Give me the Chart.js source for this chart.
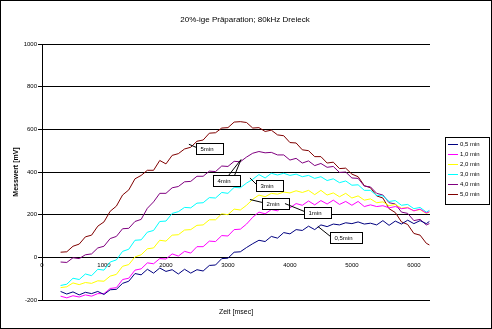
<!DOCTYPE html>
<html>
<head>
<meta charset="utf-8">
<script src="https://cdn.jsdelivr.net/npm/chart.js@4.4.0/dist/chart.umd.min.js"></script>
<style>
  html, body { margin: 0; padding: 0; background: #fff; }
</style>
</head>
<body>
<canvas id="chart" width="492" height="329"></canvas>
<script>
// time axis [msec]
const times = [
  300, 400, 500, 600, 700, 800, 900, 1000, 1100, 1200,
  1300, 1400, 1500, 1600, 1700, 1800, 1900, 2000, 2100, 2200,
  2300, 2400, 2500, 2600, 2700, 2800, 2900, 3000, 3100, 3200,
  3300, 3400, 3500, 3600, 3700, 3800, 3900, 4000, 4100, 4200,
  4300, 4400, 4500, 4600, 4700, 4800, 4900, 5000, 5100, 5200,
  5300, 5400, 5500, 5600, 5700, 5800, 5900, 6000, 6100, 6200,
  6250
];
const xTicks = [0, 1000, 2000, 3000, 4000, 5000, 6000];

// measured values [mV]
const min05 = [
  -160, -172, -162, -176, -164, -170, -160, -174, -152, -150,
  -122, -112, -76, -82, -56, -74, -50, -66, -58, -78,
  -56, -74, -58, -64, -38, -36, -6, -4, 24, 26,
  46, 64, 80, 74, 98, 90, 116, 110, 130, 126,
  146, 130, 152, 144, 156, 152, 162, 158, 166, 156,
  160, 152, 172, 150, 170, 156, 174, 158, 172, 158,
  168
];
const min10 = [
  -182, -190, -180, -186, -176, -182, -170, -170, -146, -142,
  -104, -98, -60, -54, -26, -30, -6, -8, 16, 6,
  28, 20, 50, 50, 76, 74, 102, 100, 130, 132,
  156, 188, 212, 204, 224, 218, 240, 232, 252, 244,
  264, 246, 266, 250, 268, 248, 262, 244, 262, 238,
  246, 238, 242, 232, 238, 228, 232, 218, 226, 208,
  214
];
const min20 = [
  -142, -138, -120, -128, -118, -122, -110, -112, -88, -80,
  -42, -34, 2, 12, 40, 44, 80, 76, 104, 106,
  128, 130, 150, 152, 176, 176, 204, 200, 226, 222,
  244, 272, 292, 284, 300, 296, 306, 302, 312, 304,
  314, 294, 314, 292, 302, 284, 300, 278, 288, 268,
  274, 256, 260, 242, 248, 230, 234, 218, 224, 206,
  212
];
const min30 = [
  -132, -126, -98, -104, -78, -86, -56, -60, -22, -12,
  28, 38, 80, 82, 118, 126, 168, 170, 206, 214,
  234, 232, 254, 256, 280, 278, 304, 300, 328, 326,
  348, 366, 388, 372, 394, 386, 394, 384, 390, 378,
  384, 370, 378, 360, 368, 350, 358, 338, 340, 314,
  314, 290, 288, 262, 266, 244, 248, 228, 234, 212,
  220
];
const min40 = [
  -22, -24, -2, -6, 12, 16, 44, 52, 88, 98,
  134, 136, 168, 178, 230, 260, 300, 300, 326, 332,
  354, 356, 380, 380, 404, 402, 428, 426, 450, 448,
  470, 488, 496, 490, 492, 480, 480, 456, 464, 442,
  452, 430, 440, 422, 426, 398, 400, 372, 370, 334,
  330, 300, 292, 256, 250, 212, 206, 172, 178, 152,
  158
];
const min50 = [
  24, 26, 52, 62, 96, 104, 146, 166, 216, 240,
  292, 316, 368, 384, 408, 408, 454, 438, 478, 486,
  508, 516, 544, 550, 582, 584, 606, 608, 634, 636,
  632, 606, 608, 590, 596, 574, 570, 538, 536, 504,
  500, 472, 472, 442, 446, 416, 418, 390, 378, 336,
  326, 288, 278, 228, 210, 166, 154, 112, 104, 66,
  58
];

const seriesNames = ['0,5 min', '1,0 min', '2,0 min', '3,0 min', '4,0 min', '5,0 min'];
const seriesColors = ['#000080', '#ff00ff', '#ffff00', '#00ffff', '#800080', '#800000'];
const allSeries = [min05, min10, min20, min30, min40, min50];

// callout labels: text, tip point and box corner in data units
const noteLabels = ['5min', '4min', '3min', '2min', '1min', '0,5min'];
const noteTipX = [2370, 3210, 3355, 3355, 3920, 4450];
const noteTipY = [530, 458, 372, 271, 252, 145];
const noteBoxX = [2480, 2760, 3450, 3550, 4230, 4650];
const noteBoxY = [537, 388, 364, 280, 238, 121];

const fontName = '"Liberation Sans", Arial, sans-serif';

const datasets = allSeries.map((vals, i) => ({
  label: seriesNames[i],
  data: vals.map((v, k) => ({ x: times[k], y: v })),
  borderColor: seriesColors[i],
  backgroundColor: seriesColors[i],
  borderWidth: 1,
  pointRadius: 0,
  showLine: true,
  tension: 0
}));

// frame, title, axis titles, legend box
const decorations = {
  id: 'decorations',
  beforeDraw(chart) {
    const ctx = chart.ctx;
    ctx.save();
    ctx.fillStyle = '#fff';
    ctx.fillRect(0, 0, chart.width, chart.height);
    ctx.restore();
  },
  afterDraw(chart) {
    const ctx = chart.ctx;
    const area = chart.chartArea;
    ctx.save();
    ctx.strokeStyle = '#000';
    ctx.lineWidth = 1;
    ctx.strokeRect(0.5, 0.5, chart.width - 1, chart.height - 1);

    ctx.fillStyle = '#000';
    ctx.textAlign = 'center';
    ctx.textBaseline = 'middle';
    ctx.font = '8px ' + fontName;
    ctx.fillText('20%-ige Präparation; 80kHz Dreieck', 245, 20);

    ctx.font = '7px ' + fontName;
    ctx.fillText('Zeit [msec]', (area.left + area.right) / 2, 312);

    ctx.save();
    ctx.translate(16, (area.top + area.bottom) / 2);
    ctx.rotate(-Math.PI / 2);
    ctx.font = 'bold 7px ' + fontName;
    ctx.fillText('Messwert [mV]', 0, 0);
    ctx.restore();

    // legend
    ctx.strokeRect(445.5, 137.5, 44, 67);
    ctx.font = '6px ' + fontName;
    ctx.textAlign = 'left';
    chart.data.datasets.forEach((ds, i) => {
      const y = 144.5 + i * 10;
      ctx.strokeStyle = ds.borderColor;
      ctx.beginPath();
      ctx.moveTo(448, y);
      ctx.lineTo(458, y);
      ctx.stroke();
      ctx.fillStyle = '#000';
      ctx.fillText(ds.label, 460, y);
    });
    ctx.restore();
  }
};

// callout boxes with leader lines
const callouts = {
  id: 'callouts',
  afterDatasetsDraw(chart) {
    const ctx = chart.ctx;
    const xs = chart.scales.x;
    const ys = chart.scales.y;
    ctx.save();
    ctx.font = '6px ' + fontName;
    ctx.textBaseline = 'middle';
    ctx.textAlign = 'left';
    ctx.lineWidth = 1;
    noteLabels.forEach((txt, i) => {
      const tx = xs.getPixelForValue(noteTipX[i]);
      const ty = ys.getPixelForValue(noteTipY[i]);
      const bx = Math.round(xs.getPixelForValue(noteBoxX[i])) + 0.5;
      const by = Math.round(ys.getPixelForValue(noteBoxY[i])) + 0.5;
      const w = Math.round(ctx.measureText(txt).width + 14);
      const h = 11;
      ctx.strokeStyle = '#000';
      ctx.beginPath();
      if (txt === '4min') {
        ctx.moveTo(bx + 15, by);
        ctx.lineTo(tx, ty);
        ctx.lineTo(bx + 21, by);
      } else {
        ctx.moveTo(tx, ty);
        ctx.lineTo(bx, by + 4);
      }
      ctx.stroke();
      ctx.fillStyle = '#fff';
      ctx.fillRect(bx, by, w, h);
      ctx.strokeRect(bx, by, w, h);
      ctx.fillStyle = '#000';
      ctx.fillText(txt, bx + 4, by + h / 2 + 0.5);
    });
    ctx.restore();
  }
};

new Chart(document.getElementById('chart'), {
  type: 'scatter',
  data: { datasets: datasets },
  options: {
    responsive: false,
    animation: false,
    layout: { padding: { left: 0, right: 62, top: 44, bottom: 29 } },
    plugins: {
      legend: { display: false },
      title: { display: false },
      tooltip: { enabled: false }
    },
    scales: {
      x: {
        type: 'linear',
        position: { y: 0 },
        min: 0,
        max: 6260,
        grid: { display: false, drawTicks: false },
        border: { display: false },
        afterBuildTicks(scale) {
          scale.ticks = xTicks.map(v => ({ value: v }));
        },
        ticks: {
          autoSkip: false,
          maxRotation: 0,
          padding: 4,
          color: '#000',
          font: { family: fontName, size: 6 },
          callback: v => String(v)
        }
      },
      y: {
        min: -200,
        max: 1000,
        grid: { color: '#000', lineWidth: 1, tickLength: 4 },
        border: { display: true, color: '#000', width: 1 },
        afterFit(scale) { scale.width = 42; },
        ticks: {
          stepSize: 200,
          padding: 1,
          color: '#000',
          font: { family: fontName, size: 6 },
          callback: v => String(v)
        }
      }
    }
  },
  plugins: [decorations, callouts]
});
</script>
</body>
</html>
